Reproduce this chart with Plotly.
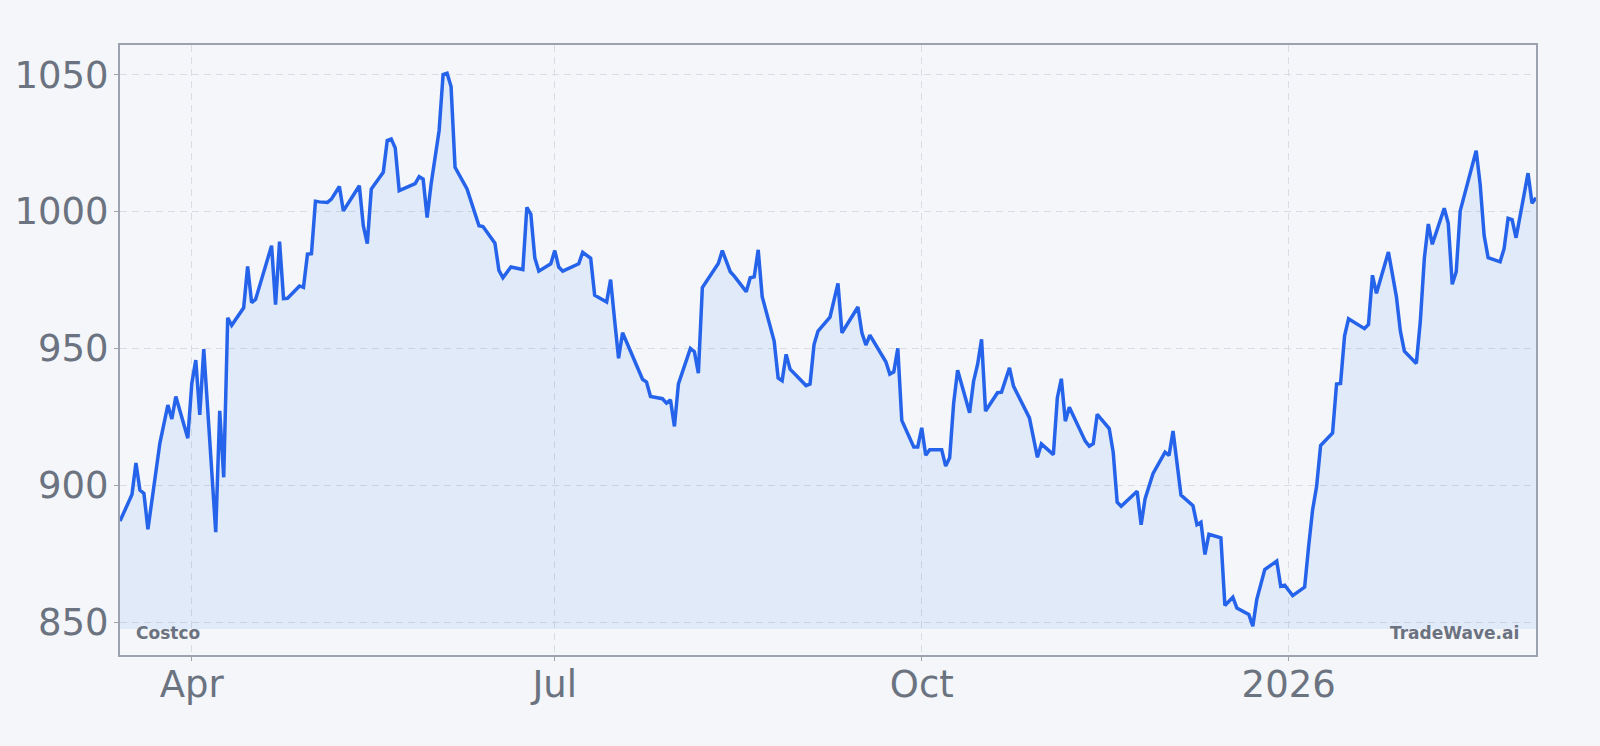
import plotly.graph_objects as go

# Costco daily close
dates = [
    "2025-03-14", "2025-03-17", "2025-03-18", "2025-03-19", "2025-03-20", "2025-03-21",
    "2025-03-24", "2025-03-26", "2025-03-27", "2025-03-28", "2025-03-31",
    "2025-04-01", "2025-04-02", "2025-04-03", "2025-04-04", "2025-04-07", "2025-04-08",
    "2025-04-09", "2025-04-10", "2025-04-11", "2025-04-14", "2025-04-15", "2025-04-16",
    "2025-04-17", "2025-04-21", "2025-04-22", "2025-04-23", "2025-04-24", "2025-04-25",
    "2025-04-28", "2025-04-29", "2025-04-30",
    "2025-05-01", "2025-05-02", "2025-05-03", "2025-05-05", "2025-05-06", "2025-05-08",
    "2025-05-09", "2025-05-11", "2025-05-13", "2025-05-14", "2025-05-15", "2025-05-16",
    "2025-05-19", "2025-05-20", "2025-05-21", "2025-05-22", "2025-05-23", "2025-05-27",
    "2025-05-28", "2025-05-29", "2025-05-30", "2025-05-31",
    "2025-06-02", "2025-06-03", "2025-06-04", "2025-06-05", "2025-06-06", "2025-06-09",
    "2025-06-11", "2025-06-12", "2025-06-13", "2025-06-16", "2025-06-17", "2025-06-18",
    "2025-06-20", "2025-06-23", "2025-06-24", "2025-06-25", "2025-06-26", "2025-06-27",
    "2025-06-30",
    "2025-07-01", "2025-07-02", "2025-07-03", "2025-07-07", "2025-07-08", "2025-07-10",
    "2025-07-11", "2025-07-14", "2025-07-15", "2025-07-16", "2025-07-17", "2025-07-18",
    "2025-07-21", "2025-07-23", "2025-07-24", "2025-07-25", "2025-07-28", "2025-07-29",
    "2025-07-30", "2025-07-31",
    "2025-08-01", "2025-08-04", "2025-08-05", "2025-08-06", "2025-08-07", "2025-08-11",
    "2025-08-12", "2025-08-14", "2025-08-15", "2025-08-18", "2025-08-19", "2025-08-20",
    "2025-08-21", "2025-08-22", "2025-08-25", "2025-08-26", "2025-08-27", "2025-08-28",
    "2025-08-29",
    "2025-09-02", "2025-09-03", "2025-09-04", "2025-09-05", "2025-09-08", "2025-09-10",
    "2025-09-11", "2025-09-15", "2025-09-16", "2025-09-17", "2025-09-18", "2025-09-22",
    "2025-09-23", "2025-09-24", "2025-09-25", "2025-09-26", "2025-09-29", "2025-09-30",
    "2025-10-01", "2025-10-02", "2025-10-03", "2025-10-06", "2025-10-07", "2025-10-08",
    "2025-10-09", "2025-10-10", "2025-10-13", "2025-10-14", "2025-10-15", "2025-10-16",
    "2025-10-17", "2025-10-20", "2025-10-21", "2025-10-23", "2025-10-24", "2025-10-28",
    "2025-10-30", "2025-10-31",
    "2025-11-03", "2025-11-04", "2025-11-05", "2025-11-06", "2025-11-07", "2025-11-11",
    "2025-11-12", "2025-11-13", "2025-11-14", "2025-11-17", "2025-11-18", "2025-11-19",
    "2025-11-20", "2025-11-24", "2025-11-25", "2025-11-26", "2025-11-28",
    "2025-12-01", "2025-12-02", "2025-12-03", "2025-12-05", "2025-12-08", "2025-12-09",
    "2025-12-10", "2025-12-11", "2025-12-12", "2025-12-15", "2025-12-16", "2025-12-18",
    "2025-12-19", "2025-12-22", "2025-12-23", "2025-12-24", "2025-12-26", "2025-12-29",
    "2025-12-30", "2025-12-31",
    "2026-01-02", "2026-01-05", "2026-01-06", "2026-01-07", "2026-01-08", "2026-01-09",
    "2026-01-12", "2026-01-13", "2026-01-14", "2026-01-15", "2026-01-16", "2026-01-20",
    "2026-01-21", "2026-01-22", "2026-01-23", "2026-01-26", "2026-01-28", "2026-01-29",
    "2026-01-30",
    "2026-02-02", "2026-02-03", "2026-02-04", "2026-02-05", "2026-02-06", "2026-02-09",
    "2026-02-10", "2026-02-11", "2026-02-12", "2026-02-13", "2026-02-17", "2026-02-18",
    "2026-02-19", "2026-02-20", "2026-02-23", "2026-02-24", "2026-02-25", "2026-02-26",
    "2026-02-27",
    "2026-03-02", "2026-03-03", "2026-03-04",
]
prices = [
    886.9, 896.6, 908.1, 898.2, 897.0, 883.9,
    915.4, 929.3, 924.2, 932.4, 917.2,
    937.2, 945.7, 925.7, 949.7, 882.9, 927.2,
    902.9, 961.2, 958.4, 964.8, 979.9, 966.7,
    967.9, 987.5, 966.0, 989.0, 968.2, 968.3,
    972.8, 972.3, 984.4,
    984.6, 1003.7, 1003.5, 1003.3, 1004.5, 1009.1,
    1000.2, 1005.1, 1009.4, 994.8, 988.3, 1008.2,
    1014.3, 1025.9, 1026.5, 1023.2, 1007.6, 1010.2,
    1012.7, 1011.8, 997.8, 1010.0,
    1029.5, 1050.0, 1050.5, 1045.6, 1016.1, 1008.2,
    999.0, 994.8, 994.5, 988.4, 978.5, 975.8,
    979.7, 978.8, 1001.5, 999.0, 983.0, 978.2,
    980.9,
    985.7, 979.7, 978.2, 980.9, 985.1, 982.9,
    969.4, 966.9, 975.1, 960.3, 946.4, 955.7,
    945.2, 938.7, 937.7, 932.4, 931.6, 930.0,
    931.2, 921.5,
    937.0, 950.0, 948.8, 940.9, 972.2, 981.0,
    985.7, 978.0, 976.4, 970.7, 975.8, 976.1,
    986.0, 968.9, 952.7, 939.2, 938.2, 947.8,
    942.4,
    936.4, 937.0, 951.4, 956.3, 961.4, 973.7,
    955.7, 965.1, 955.7, 951.2, 954.8, 945.1,
    940.6, 941.4, 950.0, 923.7, 914.0, 914.0,
    921.0, 911.0, 913.0, 913.0, 907.0, 910.0,
    930.0, 942.0, 926.5, 938.0, 944.1, 953.3,
    927.1, 933.8, 934.0, 942.9, 936.2, 924.6,
    910.2, 915.1,
    911.2, 932.0, 938.9, 923.4, 928.5, 916.1,
    914.3, 915.2, 925.9, 920.7, 912.1, 893.8,
    892.3, 897.8, 885.6, 895.1, 904.3,
    912.1, 910.9, 919.8, 896.4, 892.5, 885.6,
    886.5, 874.7, 882.1, 880.8, 856.1, 859.1,
    855.2, 852.8, 848.5, 858.3, 869.2, 872.3,
    863.1, 863.5,
    859.7, 862.8, 877.7, 891.1, 899.6, 914.5,
    919.1, 937.0, 937.2, 954.5, 960.8, 957.2,
    958.7, 976.7, 970.1, 985.2, 968.9, 956.3,
    949.0,
    944.5, 959.9, 982.8, 995.4, 988.0, 1001.2,
    995.7, 973.4, 978.0, 1000.2, 1022.2, 1009.9,
    991.2, 983.1, 981.6, 986.4, 997.5, 997.0,
    990.4,
    1014.0, 1003.0, 1005.0,
]

x_tick_vals = ["2025-04-01", "2025-07-01", "2025-10-01", "2026-01-01"]
x_tick_text = ["Apr", "Jul", "Oct", "2026"]
y_tick_vals = [850, 900, 950, 1000, 1050]

BG = "#f4f6f9"
GREY = "#6b7280"
BLUE = "#2563eb"

base = min(prices) - 1

fig = go.Figure()
# invisible baseline so the area fill stops just under the lowest close
fig.add_trace(go.Scatter(x=dates, y=[base] * len(dates), mode="lines",
                         line=dict(width=0), hoverinfo="skip", showlegend=False))
fig.add_trace(go.Scatter(x=dates, y=prices, mode="lines", name="Costco",
                         line=dict(color=BLUE, width=3.5),
                         fill="tonexty", fillcolor="rgba(59,130,246,0.1)",
                         showlegend=False))

axis_common = dict(
    showline=True, linecolor="#9ca3af", linewidth=2, mirror=True,
    showgrid=True, gridcolor="#d9dde3", griddash="7px,5px", gridwidth=1,
    ticks="outside", ticklen=4, tickcolor="#9ca3af", tickwidth=1,
    tickfont=dict(family="DejaVu Sans", size=37, color=GREY),
    zeroline=False,
)

fig.update_xaxes(range=[dates[0], dates[-1]], tickvals=x_tick_vals,
                 ticktext=x_tick_text, ticklabelstandoff=-8, **axis_common)
fig.update_yaxes(range=[838.0, 1060.8], tickvals=y_tick_vals,
                 ticklabelstandoff=-2, **axis_common)

fig.add_annotation(text="<b>Costco</b>", xref="paper", yref="paper", x=0, y=0,
                   xanchor="left", yanchor="middle", xshift=14, yshift=22,
                   showarrow=False, font=dict(family="DejaVu Sans", size=17, color=GREY))
fig.add_annotation(text="<b>TradeWave.ai</b>", xref="paper", yref="paper", x=1, y=0,
                   xanchor="right", yanchor="middle", xshift=-15, yshift=22,
                   showarrow=False, font=dict(family="DejaVu Sans", size=17, color=GREY))

fig.update_layout(
    width=1600, height=746, autosize=False,
    margin=dict(l=120, r=64, t=45, b=91),
    paper_bgcolor=BG, plot_bgcolor=BG,
    showlegend=False,
)

fig.write_html("out.html", config={"displayModeBar": False},
               post_script="document.body.style.margin='0';document.body.style.background='%s';" % BG)
